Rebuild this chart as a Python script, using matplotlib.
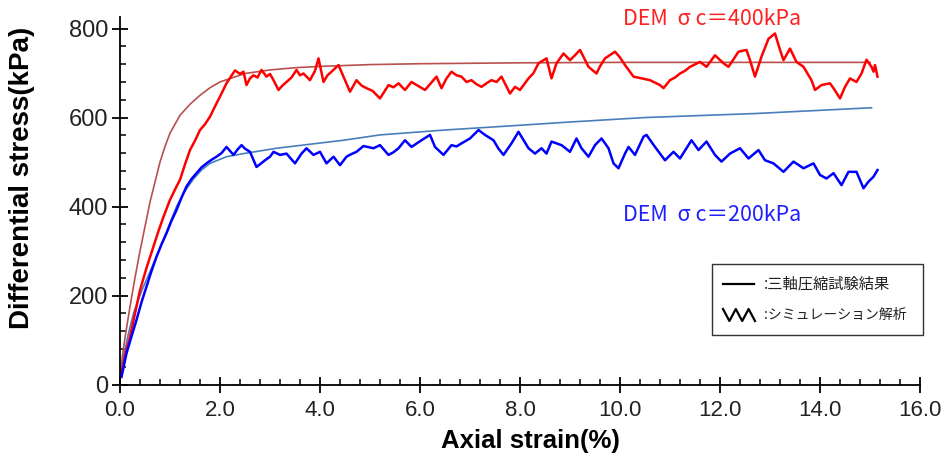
import numpy as np
import matplotlib
matplotlib.use('Agg')
import matplotlib.pyplot as plt
from matplotlib.patches import Rectangle
from matplotlib.lines import Line2D
from matplotlib.ticker import MultipleLocator, FormatStrFormatter

# triaxial test results (smooth curves)
exp400_strain = [0, 0.05, 0.1, 0.2, 0.3, 0.4, 0.5, 0.6, 0.7, 0.8, 0.9, 1.0, 1.2, 1.4, 1.6,
                 1.8, 2.0, 2.5, 3.0, 3.5, 4.0, 5.0, 6.0, 8.0, 10.0, 12.0, 15.0]
exp400_stress = [15, 65, 105, 175, 240, 300, 355, 410, 455, 500, 535, 565, 605, 630, 650,
                 667, 680, 699, 707, 712, 715, 719, 721, 723, 724, 724, 724]

exp200_strain = [0, 0.07, 0.17, 0.27, 0.37, 0.47, 0.57, 0.67, 0.77, 0.87, 1.0, 1.13, 1.3, 1.47,
                 1.63, 1.8, 2.13, 2.47, 3.13, 3.8, 4.47, 5.2, 6.5, 7.77, 9.0, 10.5, 12.7, 15.03]
exp200_stress = [25, 62, 115, 160, 192, 220, 246, 272, 298, 325, 363, 400, 435, 462,
                 482, 497, 512, 519, 531, 540, 549, 561, 572, 581, 590, 600, 609, 622]

# DEM simulation, sigma_c = 400 kPa
dem400_strain = [0.03, 0.1, 0.2, 0.3, 0.4, 0.53, 0.67, 0.77, 0.87, 1.0, 1.13, 1.2, 1.3, 1.4, 1.5,
                 1.6, 1.7, 1.8, 1.9, 2.0, 2.13, 2.3, 2.4, 2.47, 2.53, 2.6, 2.67, 2.75, 2.83, 2.93,
                 3.0, 3.07, 3.17, 3.25, 3.33, 3.43, 3.53, 3.6, 3.67, 3.8, 3.9, 3.97, 4.07, 4.15,
                 4.23, 4.37, 4.47, 4.6, 4.73, 4.83, 4.93, 5.05, 5.2, 5.37, 5.47, 5.57, 5.7, 5.83,
                 5.95, 6.1, 6.2, 6.33, 6.43, 6.53, 6.63, 6.73, 6.83, 6.93, 7.03, 7.13, 7.23, 7.33,
                 7.43, 7.53, 7.63, 7.8, 7.9, 8.0, 8.17, 8.27, 8.37, 8.53, 8.63, 8.73, 8.87, 9.0,
                 9.1, 9.2, 9.37, 9.53, 9.6, 9.7, 9.9, 10.0, 10.1, 10.27, 10.43, 10.6, 10.8, 10.87,
                 11.0, 11.1, 11.2, 11.3, 11.4, 11.6, 11.73, 11.9, 12.07, 12.17, 12.37, 12.53, 12.6,
                 12.7, 12.83, 12.97, 13.1, 13.2, 13.27, 13.4, 13.53, 13.67, 13.83, 13.9, 14.03,
                 14.2, 14.27, 14.4, 14.5, 14.6, 14.73, 14.83, 14.93, 15.03, 15.07, 15.1, 15.15]
dem400_stress = [26, 65, 107, 160, 212, 262, 310, 345, 377, 415, 445, 460, 495, 527, 548,
                 572, 585, 602, 625, 647, 677, 706, 698, 703, 673, 688, 695, 690, 707, 692,
                 698, 684, 662, 672, 680, 690, 707, 695, 699, 684, 705, 733, 680, 695,
                 703, 718, 692, 658, 684, 672, 666, 660, 643, 673, 668, 677, 662, 680,
                 672, 662, 675, 692, 666, 688, 703, 695, 692, 680, 684, 675, 669, 677,
                 684, 680, 692, 654, 669, 662, 688, 700, 722, 733, 688, 722, 744, 729,
                 740, 752, 714, 699, 715, 733, 748, 735, 718, 692, 688, 684, 673, 666,
                 684, 690, 699, 705, 714, 725, 714, 740, 722, 714, 748, 752, 729,
                 692, 737, 777, 789, 752, 729, 755, 725, 714, 684, 662, 673,
                 677, 666, 643, 669, 688, 680, 699, 730, 714, 703, 718, 692]

# DEM simulation, sigma_c = 200 kPa
dem200_strain = [0.03, 0.13, 0.23, 0.33, 0.43, 0.53, 0.63, 0.73, 0.83, 0.93, 1.03, 1.13, 1.23,
                 1.33, 1.43, 1.53, 1.63, 1.73, 1.83, 1.93, 2.03, 2.13, 2.2, 2.27, 2.35, 2.43,
                 2.5, 2.6, 2.73, 2.8, 2.9, 3.0, 3.07, 3.2, 3.33, 3.5, 3.63, 3.73, 3.87, 4.0,
                 4.13, 4.27, 4.4, 4.53, 4.63, 4.73, 4.87, 5.07, 5.2, 5.37, 5.47, 5.57, 5.7,
                 5.83, 6.03, 6.2, 6.3, 6.47, 6.63, 6.73, 6.83, 7.0, 7.17, 7.3, 7.47, 7.57,
                 7.67, 7.83, 7.97, 8.17, 8.3, 8.43, 8.53, 8.63, 8.83, 9.0, 9.13, 9.23, 9.37,
                 9.5, 9.63, 9.77, 9.87, 9.97, 10.1, 10.17, 10.3, 10.47, 10.53, 10.7, 10.9,
                 11.07, 11.2, 11.43, 11.57, 11.73, 11.9, 12.03, 12.2, 12.4, 12.57, 12.77,
                 12.9, 13.07, 13.27, 13.47, 13.67, 13.87, 14.0, 14.13, 14.27, 14.43, 14.57,
                 14.73, 14.87, 14.97, 15.07, 15.15]
dem200_stress = [17, 70, 108, 145, 185, 220, 255, 287, 315, 340, 368, 392, 420,
                 445, 462, 475, 488, 497, 505, 512, 520, 534, 525, 516, 528, 538,
                 530, 523, 489, 495, 504, 512, 523, 516, 519, 497, 519, 531, 516, 523,
                 497, 512, 493, 512, 518, 523, 536, 531, 538, 516, 522, 531, 549,
                 534, 549, 561, 534, 516, 538, 535, 542, 553, 572, 561, 549, 530,
                 516, 542, 568, 531, 519, 531, 519, 546, 538, 523, 553, 531, 512,
                 538, 553, 531, 497, 486, 519, 534, 516, 557, 561, 534, 504,
                 523, 508, 549, 527, 546, 516, 501, 519, 531, 508, 527,
                 504, 497, 478, 501, 486, 497, 471, 463, 475, 448, 478,
                 478, 441, 456, 467, 482]

legend_labels = [':三軸圧縮試験結果', ':シミュレーション解析']

W, H = 947, 459
fig = plt.figure(figsize=(W / 100, H / 100), dpi=100)
ax = fig.add_axes([120 / W, 1 - 384.5 / H, 800 / W, 367.5 / H])

ax.plot(exp400_strain, exp400_stress, color='#B9504E', lw=1.2)
ax.plot(exp200_strain, exp200_stress, color='#4A7EBB', lw=1.2)
ax.plot(dem400_strain, dem400_stress, color='#FF0000', lw=1.8)
ax.plot(dem200_strain, dem200_stress, color='#0000FF', lw=1.8)

ax.set_xlim(0, 16)
ax.set_ylim(0, 826)
ax.spines['top'].set_visible(False)
ax.spines['right'].set_visible(False)
for s in ['left', 'bottom']:
    ax.spines[s].set_linewidth(1.3)

ax.xaxis.set_major_locator(MultipleLocator(2))
ax.xaxis.set_minor_locator(MultipleLocator(0.4))
ax.yaxis.set_major_locator(MultipleLocator(200))
ax.yaxis.set_minor_locator(MultipleLocator(40))
ax.xaxis.set_major_formatter(FormatStrFormatter('%.1f'))
ax.tick_params(which='major', direction='inout', length=11, width=1.3, color='black')
ax.tick_params(which='minor', direction='in', length=4.5, width=1.1, color='black')
ax.tick_params(axis='y', which='major', labelsize=17, pad=3)
ax.tick_params(axis='x', which='major', labelsize=16, pad=6)
for lab in ax.get_xticklabels() + ax.get_yticklabels():
    lab.set_family('Liberation Sans')
    lab.set_color('#222222')

ax.set_xlabel('Axial strain(%)', fontsize=18.5, fontweight='bold', family='Liberation Sans')
ax.set_ylabel('Differential stress(kPa)', fontsize=20, fontweight='bold', family='Liberation Sans')
ax.xaxis.set_label_coords(0.5125, -0.122)
ax.yaxis.set_label_coords(-0.106, 0.562)

cjk = ['Noto Sans CJK JP', 'DejaVu Sans']
ax.text(11.85, 821, 'DEM  σ c＝400kPa', color='#FF2020', fontsize=15.5,
        family=cjk, ha='center', va='center')
ax.text(11.85, 380, 'DEM  σ c＝200kPa', color='#2020FF', fontsize=15.5,
        family=cjk, ha='center', va='center')

# legend box (figure pixels)
def fx(px):
    return px / W

def fy(py):
    return 1 - py / H

fig.patches.append(Rectangle((fx(712), fy(335)), fx(923) - fx(712), fy(264) - fy(335),
                             transform=fig.transFigure, fill=False, edgecolor='#333333', lw=1.0))
fig.lines.append(Line2D([fx(723), fx(754)], [fy(284), fy(284)], transform=fig.transFigure,
                        color='black', lw=1.6))
zig_x = np.linspace(723, 755, 6)
zig_y = [309, 321, 309, 321, 309, 321]
fig.lines.append(Line2D([fx(v) for v in zig_x], [fy(v) for v in zig_y], transform=fig.transFigure,
                        color='black', lw=1.6))
fig.text(fx(764), fy(284), legend_labels[0], fontsize=11, family=cjk, va='center', color='#222222')
fig.text(fx(764), fy(315), legend_labels[1], fontsize=10, family=cjk, va='center', color='#222222')

fig.savefig('out.png', dpi=100)
